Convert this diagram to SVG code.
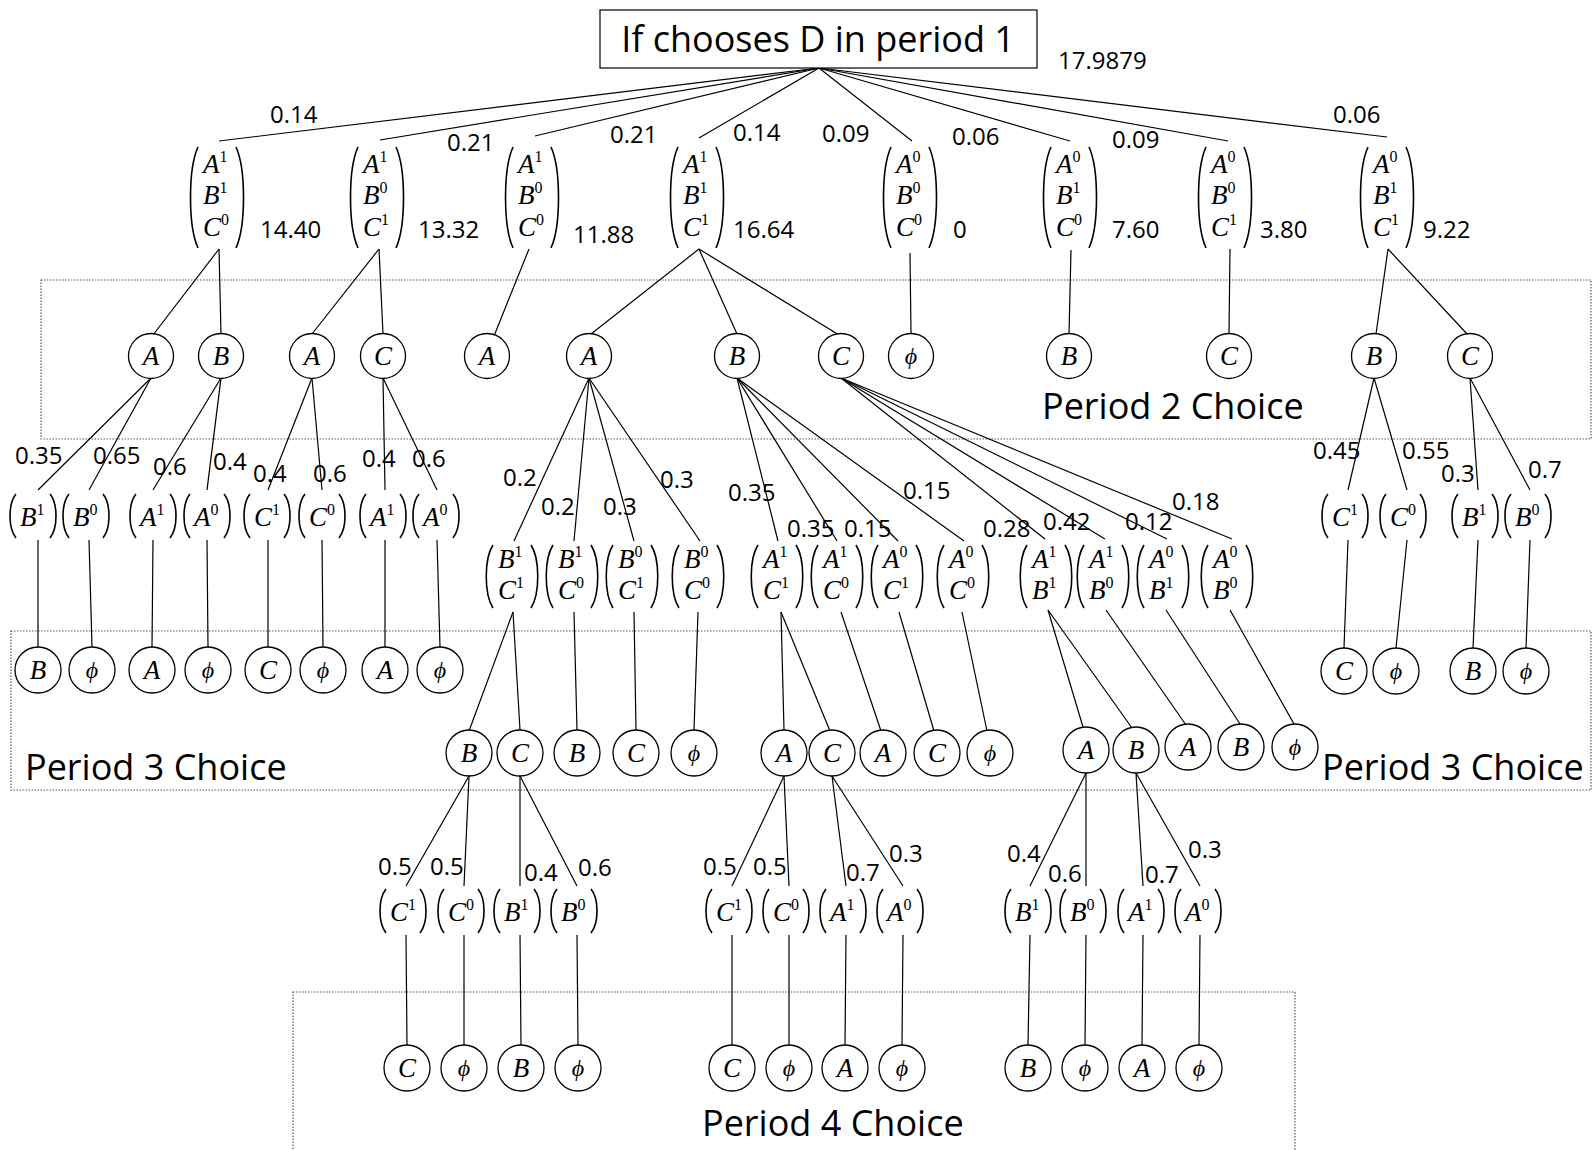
<svg xmlns="http://www.w3.org/2000/svg" width="1595" height="1150" viewBox="0 0 1595 1150">
<style>
.ln{stroke:#000;stroke-width:1.2;fill:none}
.bx{fill:none;stroke:#555;stroke-width:1.2;stroke-dasharray:1.5 1.5}
.nd{fill:#fff;stroke:#000;stroke-width:1.3}
.num{font-family:"Open Sans","Liberation Sans",sans-serif;font-size:24px;fill:#000}
.big{font-family:"Open Sans","Liberation Sans",sans-serif;font-size:36px;fill:#000}
.m{font-family:"Liberation Serif","DejaVu Serif",serif;font-style:italic;font-size:27px;fill:#000}
.c{text-anchor:middle}
.s{font-size:16px;font-style:normal}
.phi{font-size:24px}
</style>
<defs>
<path id="p3" fill="none" stroke="#000" stroke-width="1.6" d="M-19,0 C-29,22 -29,79 -19,101 M19,0 C29,22 29,79 19,101"/>
<path id="p2" fill="none" stroke="#000" stroke-width="1.6" d="M-19,0 C-28,14 -28,49 -19,63 M19,0 C28,14 28,49 19,63"/>
<path id="p1" fill="none" stroke="#000" stroke-width="1.6" d="M-17,0 C-25,10 -25,34 -17,44 M17,0 C25,10 25,34 17,44"/>
</defs>
<rect width="1595" height="1150" fill="#fff"/>

<g id="boxes">
<rect class="bx" x="41" y="280" width="1550" height="159"/>
<rect class="bx" x="11" y="631" width="1580" height="159"/>
<rect class="bx" x="293" y="992" width="1002" height="200"/>
<text class="big" x="1042" y="419">Period 2 Choice</text>
<text class="big" x="25" y="780">Period 3 Choice</text>
<text class="big" x="1322" y="780">Period 3 Choice</text>
<text class="big" x="702" y="1136">Period 4 Choice</text>
</g>

<g id="connectors" class="ln">
<line x1="819" y1="68" x2="219" y2="141"/><line x1="819" y1="68" x2="380" y2="140"/><line x1="819" y1="68" x2="535" y2="136"/><line x1="819" y1="68" x2="699" y2="138"/><line x1="819" y1="68" x2="912" y2="141"/><line x1="819" y1="68" x2="1070" y2="141"/><line x1="819" y1="68" x2="1228" y2="141"/><line x1="819" y1="68" x2="1387" y2="137"/>
<line x1="219" y1="249" x2="153" y2="335"/><line x1="219" y1="249" x2="221" y2="334"/>
<line x1="379" y1="249" x2="312" y2="334"/><line x1="379" y1="249" x2="383" y2="334"/>
<line x1="529" y1="249" x2="494" y2="336"/>
<line x1="699" y1="249" x2="591" y2="334"/><line x1="699" y1="249" x2="737" y2="334"/><line x1="699" y1="249" x2="839" y2="335"/>
<line x1="910" y1="253" x2="911" y2="334"/>
<line x1="1071" y1="250" x2="1069" y2="334"/>
<line x1="1230" y1="249" x2="1229" y2="334"/>
<line x1="1388" y1="249" x2="1376" y2="334"/><line x1="1388" y1="249" x2="1468" y2="335"/>
<line x1="151" y1="378" x2="38" y2="490"/><line x1="151" y1="378" x2="89" y2="490"/>
<line x1="221" y1="378" x2="153" y2="490"/><line x1="221" y1="378" x2="207" y2="490"/>
<line x1="312" y1="378" x2="268" y2="490"/><line x1="312" y1="378" x2="322" y2="490"/>
<line x1="383" y1="378" x2="385" y2="490"/><line x1="383" y1="378" x2="437" y2="490"/>
<line x1="589" y1="378" x2="514" y2="541"/><line x1="589" y1="378" x2="574" y2="541"/><line x1="589" y1="378" x2="634" y2="541"/><line x1="589" y1="378" x2="700" y2="541"/>
<line x1="737" y1="378" x2="778" y2="541"/><line x1="737" y1="378" x2="837" y2="541"/><line x1="737" y1="378" x2="898" y2="541"/><line x1="737" y1="378" x2="964" y2="541"/>
<line x1="841" y1="378" x2="1045" y2="539"/><line x1="841" y1="378" x2="1105" y2="539"/><line x1="841" y1="378" x2="1167" y2="539"/><line x1="841" y1="378" x2="1232" y2="539"/>
<line x1="1374" y1="378" x2="1348" y2="490"/><line x1="1374" y1="378" x2="1407" y2="490"/>
<line x1="1470" y1="378" x2="1478" y2="490"/><line x1="1470" y1="378" x2="1530" y2="490"/>
<line x1="38" y1="540" x2="38" y2="647"/><line x1="89" y1="540" x2="92" y2="647"/><line x1="153" y1="540" x2="152" y2="647"/><line x1="207" y1="540" x2="208" y2="647"/><line x1="268" y1="540" x2="268" y2="647"/><line x1="322" y1="540" x2="323" y2="647"/><line x1="385" y1="540" x2="385" y2="647"/><line x1="437" y1="540" x2="440" y2="647"/>
<line x1="1348" y1="540" x2="1344" y2="648"/><line x1="1407" y1="540" x2="1396" y2="648"/><line x1="1478" y1="540" x2="1473" y2="648"/><line x1="1530" y1="540" x2="1526" y2="648"/>
<line x1="513" y1="612" x2="469" y2="731"/><line x1="513" y1="612" x2="520" y2="730"/>
<line x1="574" y1="612" x2="577" y2="730"/><line x1="634" y1="612" x2="636" y2="730"/><line x1="698" y1="612" x2="694" y2="730"/>
<line x1="781" y1="612" x2="784" y2="730"/><line x1="781" y1="612" x2="830" y2="731"/>
<line x1="841" y1="612" x2="881" y2="731"/><line x1="899" y1="612" x2="934" y2="731"/><line x1="962" y1="612" x2="987" y2="731"/>
<line x1="1048" y1="610" x2="1083" y2="727"/><line x1="1048" y1="610" x2="1132" y2="728"/>
<line x1="1106" y1="610" x2="1186" y2="725"/><line x1="1166" y1="610" x2="1240" y2="724"/><line x1="1230" y1="610" x2="1294" y2="724"/>
<line x1="469" y1="776" x2="406" y2="886"/><line x1="469" y1="776" x2="464" y2="886"/>
<line x1="520" y1="776" x2="520" y2="886"/><line x1="520" y1="776" x2="577" y2="886"/>
<line x1="784" y1="776" x2="732" y2="886"/><line x1="784" y1="776" x2="789" y2="886"/>
<line x1="832" y1="776" x2="846" y2="886"/><line x1="832" y1="776" x2="903" y2="886"/>
<line x1="1086" y1="773" x2="1030" y2="886"/><line x1="1086" y1="773" x2="1086" y2="886"/>
<line x1="1136" y1="773" x2="1143" y2="886"/><line x1="1136" y1="773" x2="1200" y2="886"/>
<line x1="406" y1="935" x2="407" y2="1045"/><line x1="464" y1="935" x2="464" y2="1045"/><line x1="520" y1="935" x2="521" y2="1045"/><line x1="577" y1="935" x2="578" y2="1045"/>
<line x1="732" y1="935" x2="732" y2="1045"/><line x1="789" y1="935" x2="789" y2="1045"/><line x1="846" y1="935" x2="845" y2="1045"/><line x1="903" y1="935" x2="902" y2="1045"/>
<line x1="1030" y1="935" x2="1028" y2="1045"/><line x1="1086" y1="935" x2="1085" y2="1045"/><line x1="1143" y1="935" x2="1142" y2="1045"/><line x1="1200" y1="935" x2="1199" y2="1045"/>
</g>

<g id="edge-labels" class="num">
<text x="270" y="123">0.14</text><text x="447" y="151">0.21</text><text x="610" y="143">0.21</text><text x="733" y="141">0.14</text><text x="822" y="142">0.09</text><text x="952" y="145">0.06</text><text x="1112" y="148">0.09</text><text x="1333" y="123">0.06</text>
<text x="15" y="464">0.35</text><text x="93" y="464">0.65</text><text x="153" y="475">0.6</text><text x="213" y="470">0.4</text><text x="253" y="482">0.4</text><text x="313" y="482">0.6</text><text x="362" y="467">0.4</text><text x="412" y="467">0.6</text>
<text x="503" y="486">0.2</text><text x="541" y="515">0.2</text><text x="603" y="515">0.3</text><text x="660" y="488">0.3</text>
<text x="728" y="501">0.35</text><text x="787" y="537">0.35</text><text x="844" y="537">0.15</text><text x="903" y="499">0.15</text>
<text x="983" y="537">0.28</text><text x="1043" y="530">0.42</text><text x="1125" y="530">0.12</text><text x="1172" y="510">0.18</text>
<text x="1313" y="459">0.45</text><text x="1402" y="459">0.55</text><text x="1441" y="482">0.3</text><text x="1528" y="478">0.7</text>
<text x="378" y="875">0.5</text><text x="430" y="875">0.5</text><text x="524" y="881">0.4</text><text x="578" y="876">0.6</text>
<text x="703" y="875">0.5</text><text x="753" y="875">0.5</text><text x="846" y="881">0.7</text><text x="889" y="862">0.3</text>
<text x="1007" y="862">0.4</text><text x="1048" y="882">0.6</text><text x="1145" y="883">0.7</text><text x="1188" y="858">0.3</text>
</g>

<g id="root">
<rect x="600" y="10" width="437" height="58" fill="#fff" stroke="#000" stroke-width="1.2"/>
<text class="big c" x="818" y="52">If chooses D in period 1</text>
<text class="num" x="1058" y="69">17.9879</text>
</g>

<g id="m1"><use href="#p3" x="217" y="147"/><text class="m" x="203" y="173">A<tspan class="s" dy="-11">1</tspan></text><text class="m" x="203" y="204">B<tspan class="s" dy="-11">1</tspan></text><text class="m" x="203" y="236">C<tspan class="s" dy="-11">0</tspan></text><text class="num" x="260" y="238">14.40</text></g>
<g id="m2"><use href="#p3" x="377" y="147"/><text class="m" x="363" y="173">A<tspan class="s" dy="-11">1</tspan></text><text class="m" x="363" y="204">B<tspan class="s" dy="-11">0</tspan></text><text class="m" x="363" y="236">C<tspan class="s" dy="-11">1</tspan></text><text class="num" x="418" y="238">13.32</text></g>
<g id="m3"><use href="#p3" x="532" y="147"/><text class="m" x="518" y="173">A<tspan class="s" dy="-11">1</tspan></text><text class="m" x="518" y="204">B<tspan class="s" dy="-11">0</tspan></text><text class="m" x="518" y="236">C<tspan class="s" dy="-11">0</tspan></text><text class="num" x="573" y="243">11.88</text></g>
<g id="m4"><use href="#p3" x="697" y="147"/><text class="m" x="683" y="173">A<tspan class="s" dy="-11">1</tspan></text><text class="m" x="683" y="204">B<tspan class="s" dy="-11">1</tspan></text><text class="m" x="683" y="236">C<tspan class="s" dy="-11">1</tspan></text><text class="num" x="733" y="238">16.64</text></g>
<g id="m5"><use href="#p3" x="910" y="147"/><text class="m" x="896" y="173">A<tspan class="s" dy="-11">0</tspan></text><text class="m" x="896" y="204">B<tspan class="s" dy="-11">0</tspan></text><text class="m" x="896" y="236">C<tspan class="s" dy="-11">0</tspan></text><text class="num" x="953" y="238">0</text></g>
<g id="m6"><use href="#p3" x="1070" y="147"/><text class="m" x="1056" y="173">A<tspan class="s" dy="-11">0</tspan></text><text class="m" x="1056" y="204">B<tspan class="s" dy="-11">1</tspan></text><text class="m" x="1056" y="236">C<tspan class="s" dy="-11">0</tspan></text><text class="num" x="1112" y="238">7.60</text></g>
<g id="m7"><use href="#p3" x="1225" y="147"/><text class="m" x="1211" y="173">A<tspan class="s" dy="-11">0</tspan></text><text class="m" x="1211" y="204">B<tspan class="s" dy="-11">0</tspan></text><text class="m" x="1211" y="236">C<tspan class="s" dy="-11">1</tspan></text><text class="num" x="1260" y="238">3.80</text></g>
<g id="m8"><use href="#p3" x="1387" y="147"/><text class="m" x="1373" y="173">A<tspan class="s" dy="-11">0</tspan></text><text class="m" x="1373" y="204">B<tspan class="s" dy="-11">1</tspan></text><text class="m" x="1373" y="236">C<tspan class="s" dy="-11">1</tspan></text><text class="num" x="1423" y="238">9.22</text></g>

<g id="p2-1"><circle class="nd" cx="151" cy="356" r="22.5"/><text class="m c" x="151" y="365">A</text></g>
<g id="p2-2"><circle class="nd" cx="221" cy="356" r="22.5"/><text class="m c" x="221" y="365">B</text></g>
<g id="p2-3"><circle class="nd" cx="312" cy="356" r="22.5"/><text class="m c" x="312" y="365">A</text></g>
<g id="p2-4"><circle class="nd" cx="383" cy="356" r="22.5"/><text class="m c" x="383" y="365">C</text></g>
<g id="p2-5"><circle class="nd" cx="487" cy="356" r="22.5"/><text class="m c" x="487" y="365">A</text></g>
<g id="p2-6"><circle class="nd" cx="589" cy="356" r="22.5"/><text class="m c" x="589" y="365">A</text></g>
<g id="p2-7"><circle class="nd" cx="737" cy="356" r="22.5"/><text class="m c" x="737" y="365">B</text></g>
<g id="p2-8"><circle class="nd" cx="841" cy="356" r="22.5"/><text class="m c" x="841" y="365">C</text></g>
<g id="p2-9"><circle class="nd" cx="911" cy="356" r="22.5"/><text class="m c phi" x="911" y="364">ϕ</text></g>
<g id="p2-10"><circle class="nd" cx="1069" cy="356" r="22.5"/><text class="m c" x="1069" y="365">B</text></g>
<g id="p2-11"><circle class="nd" cx="1229" cy="356" r="22.5"/><text class="m c" x="1229" y="365">C</text></g>
<g id="p2-12"><circle class="nd" cx="1374" cy="356" r="22.5"/><text class="m c" x="1374" y="365">B</text></g>
<g id="p2-13"><circle class="nd" cx="1470" cy="356" r="22.5"/><text class="m c" x="1470" y="365">C</text></g>

<g id="s3-1"><use href="#p1" x="33" y="494"/><text class="m" x="20" y="526">B<tspan class="s" dy="-11">1</tspan></text></g>
<g id="s3-2"><use href="#p1" x="86" y="494"/><text class="m" x="73" y="526">B<tspan class="s" dy="-11">0</tspan></text></g>
<g id="s3-3"><use href="#p1" x="153" y="494"/><text class="m" x="140" y="526">A<tspan class="s" dy="-11">1</tspan></text></g>
<g id="s3-4"><use href="#p1" x="207" y="494"/><text class="m" x="194" y="526">A<tspan class="s" dy="-11">0</tspan></text></g>
<g id="s3-5"><use href="#p1" x="267" y="494"/><text class="m" x="254" y="526">C<tspan class="s" dy="-11">1</tspan></text></g>
<g id="s3-6"><use href="#p1" x="322" y="494"/><text class="m" x="309" y="526">C<tspan class="s" dy="-11">0</tspan></text></g>
<g id="s3-7"><use href="#p1" x="383" y="494"/><text class="m" x="370" y="526">A<tspan class="s" dy="-11">1</tspan></text></g>
<g id="s3-8"><use href="#p1" x="436" y="494"/><text class="m" x="423" y="526">A<tspan class="s" dy="-11">0</tspan></text></g>
<g id="s3-9"><use href="#p1" x="1345" y="494"/><text class="m" x="1332" y="526">C<tspan class="s" dy="-11">1</tspan></text></g>
<g id="s3-10"><use href="#p1" x="1403" y="494"/><text class="m" x="1390" y="526">C<tspan class="s" dy="-11">0</tspan></text></g>
<g id="s3-11"><use href="#p1" x="1475" y="494"/><text class="m" x="1462" y="526">B<tspan class="s" dy="-11">1</tspan></text></g>
<g id="s3-12"><use href="#p1" x="1528" y="494"/><text class="m" x="1515" y="526">B<tspan class="s" dy="-11">0</tspan></text></g>

<g id="d-1"><use href="#p2" x="512" y="545"/><text class="m" x="498" y="568">B<tspan class="s" dy="-11">1</tspan></text><text class="m" x="498" y="599">C<tspan class="s" dy="-11">1</tspan></text></g>
<g id="d-2"><use href="#p2" x="572" y="545"/><text class="m" x="558" y="568">B<tspan class="s" dy="-11">1</tspan></text><text class="m" x="558" y="599">C<tspan class="s" dy="-11">0</tspan></text></g>
<g id="d-3"><use href="#p2" x="632" y="545"/><text class="m" x="618" y="568">B<tspan class="s" dy="-11">0</tspan></text><text class="m" x="618" y="599">C<tspan class="s" dy="-11">1</tspan></text></g>
<g id="d-4"><use href="#p2" x="698" y="545"/><text class="m" x="684" y="568">B<tspan class="s" dy="-11">0</tspan></text><text class="m" x="684" y="599">C<tspan class="s" dy="-11">0</tspan></text></g>
<g id="d-5"><use href="#p2" x="777" y="545"/><text class="m" x="763" y="568">A<tspan class="s" dy="-11">1</tspan></text><text class="m" x="763" y="599">C<tspan class="s" dy="-11">1</tspan></text></g>
<g id="d-6"><use href="#p2" x="837" y="545"/><text class="m" x="823" y="568">A<tspan class="s" dy="-11">1</tspan></text><text class="m" x="823" y="599">C<tspan class="s" dy="-11">0</tspan></text></g>
<g id="d-7"><use href="#p2" x="897" y="545"/><text class="m" x="883" y="568">A<tspan class="s" dy="-11">0</tspan></text><text class="m" x="883" y="599">C<tspan class="s" dy="-11">1</tspan></text></g>
<g id="d-8"><use href="#p2" x="963" y="545"/><text class="m" x="949" y="568">A<tspan class="s" dy="-11">0</tspan></text><text class="m" x="949" y="599">C<tspan class="s" dy="-11">0</tspan></text></g>
<g id="d-9"><use href="#p2" x="1046" y="545"/><text class="m" x="1032" y="568">A<tspan class="s" dy="-11">1</tspan></text><text class="m" x="1032" y="599">B<tspan class="s" dy="-11">1</tspan></text></g>
<g id="d-10"><use href="#p2" x="1103" y="545"/><text class="m" x="1089" y="568">A<tspan class="s" dy="-11">1</tspan></text><text class="m" x="1089" y="599">B<tspan class="s" dy="-11">0</tspan></text></g>
<g id="d-11"><use href="#p2" x="1163" y="545"/><text class="m" x="1149" y="568">A<tspan class="s" dy="-11">0</tspan></text><text class="m" x="1149" y="599">B<tspan class="s" dy="-11">1</tspan></text></g>
<g id="d-12"><use href="#p2" x="1227" y="545"/><text class="m" x="1213" y="568">A<tspan class="s" dy="-11">0</tspan></text><text class="m" x="1213" y="599">B<tspan class="s" dy="-11">0</tspan></text></g>

<g id="c4-1"><circle class="nd" cx="38" cy="670" r="23"/><text class="m c" x="38" y="679">B</text></g>
<g id="c4-2"><circle class="nd" cx="92" cy="670" r="23"/><text class="m c phi" x="92" y="678">ϕ</text></g>
<g id="c4-3"><circle class="nd" cx="152" cy="670" r="23"/><text class="m c" x="152" y="679">A</text></g>
<g id="c4-4"><circle class="nd" cx="208" cy="670" r="23"/><text class="m c phi" x="208" y="678">ϕ</text></g>
<g id="c4-5"><circle class="nd" cx="268" cy="670" r="23"/><text class="m c" x="268" y="679">C</text></g>
<g id="c4-6"><circle class="nd" cx="323" cy="670" r="23"/><text class="m c phi" x="323" y="678">ϕ</text></g>
<g id="c4-7"><circle class="nd" cx="385" cy="670" r="23"/><text class="m c" x="385" y="679">A</text></g>
<g id="c4-8"><circle class="nd" cx="440" cy="670" r="23"/><text class="m c phi" x="440" y="678">ϕ</text></g>
<g id="c4-9"><circle class="nd" cx="1344" cy="671" r="23"/><text class="m c" x="1344" y="680">C</text></g>
<g id="c4-10"><circle class="nd" cx="1396" cy="671" r="23"/><text class="m c phi" x="1396" y="679">ϕ</text></g>
<g id="c4-11"><circle class="nd" cx="1473" cy="671" r="23"/><text class="m c" x="1473" y="680">B</text></g>
<g id="c4-12"><circle class="nd" cx="1526" cy="671" r="23"/><text class="m c phi" x="1526" y="679">ϕ</text></g>

<g id="c5-1"><circle class="nd" cx="469" cy="753" r="23"/><text class="m c" x="469" y="762">B</text></g>
<g id="c5-2"><circle class="nd" cx="520" cy="753" r="23"/><text class="m c" x="520" y="762">C</text></g>
<g id="c5-3"><circle class="nd" cx="577" cy="753" r="23"/><text class="m c" x="577" y="762">B</text></g>
<g id="c5-4"><circle class="nd" cx="636" cy="753" r="23"/><text class="m c" x="636" y="762">C</text></g>
<g id="c5-5"><circle class="nd" cx="694" cy="753" r="23"/><text class="m c phi" x="694" y="761">ϕ</text></g>
<g id="c5-6"><circle class="nd" cx="784" cy="753" r="23"/><text class="m c" x="784" y="762">A</text></g>
<g id="c5-7"><circle class="nd" cx="832" cy="753" r="23"/><text class="m c" x="832" y="762">C</text></g>
<g id="c5-8"><circle class="nd" cx="883" cy="753" r="23"/><text class="m c" x="883" y="762">A</text></g>
<g id="c5-9"><circle class="nd" cx="937" cy="753" r="23"/><text class="m c" x="937" y="762">C</text></g>
<g id="c5-10"><circle class="nd" cx="990" cy="753" r="23"/><text class="m c phi" x="990" y="761">ϕ</text></g>
<g id="c5-11"><circle class="nd" cx="1086" cy="750" r="23"/><text class="m c" x="1086" y="759">A</text></g>
<g id="c5-12"><circle class="nd" cx="1136" cy="750" r="23"/><text class="m c" x="1136" y="759">B</text></g>
<g id="c5-13"><circle class="nd" cx="1188" cy="747" r="23"/><text class="m c" x="1188" y="756">A</text></g>
<g id="c5-14"><circle class="nd" cx="1241" cy="747" r="23"/><text class="m c" x="1241" y="756">B</text></g>
<g id="c5-15"><circle class="nd" cx="1295" cy="747" r="23"/><text class="m c phi" x="1295" y="755">ϕ</text></g>

<g id="s6-1"><use href="#p1" x="403" y="889"/><text class="m" x="390" y="921">C<tspan class="s" dy="-11">1</tspan></text></g>
<g id="s6-2"><use href="#p1" x="461" y="889"/><text class="m" x="448" y="921">C<tspan class="s" dy="-11">0</tspan></text></g>
<g id="s6-3"><use href="#p1" x="517" y="889"/><text class="m" x="504" y="921">B<tspan class="s" dy="-11">1</tspan></text></g>
<g id="s6-4"><use href="#p1" x="574" y="889"/><text class="m" x="561" y="921">B<tspan class="s" dy="-11">0</tspan></text></g>
<g id="s6-5"><use href="#p1" x="729" y="889"/><text class="m" x="716" y="921">C<tspan class="s" dy="-11">1</tspan></text></g>
<g id="s6-6"><use href="#p1" x="786" y="889"/><text class="m" x="773" y="921">C<tspan class="s" dy="-11">0</tspan></text></g>
<g id="s6-7"><use href="#p1" x="843" y="889"/><text class="m" x="830" y="921">A<tspan class="s" dy="-11">1</tspan></text></g>
<g id="s6-8"><use href="#p1" x="900" y="889"/><text class="m" x="887" y="921">A<tspan class="s" dy="-11">0</tspan></text></g>
<g id="s6-9"><use href="#p1" x="1028" y="889"/><text class="m" x="1015" y="921">B<tspan class="s" dy="-11">1</tspan></text></g>
<g id="s6-10"><use href="#p1" x="1083" y="889"/><text class="m" x="1070" y="921">B<tspan class="s" dy="-11">0</tspan></text></g>
<g id="s6-11"><use href="#p1" x="1141" y="889"/><text class="m" x="1128" y="921">A<tspan class="s" dy="-11">1</tspan></text></g>
<g id="s6-12"><use href="#p1" x="1198" y="889"/><text class="m" x="1185" y="921">A<tspan class="s" dy="-11">0</tspan></text></g>

<g id="c7-1"><circle class="nd" cx="407" cy="1068" r="23"/><text class="m c" x="407" y="1077">C</text></g>
<g id="c7-2"><circle class="nd" cx="464" cy="1068" r="23"/><text class="m c phi" x="464" y="1076">ϕ</text></g>
<g id="c7-3"><circle class="nd" cx="521" cy="1068" r="23"/><text class="m c" x="521" y="1077">B</text></g>
<g id="c7-4"><circle class="nd" cx="578" cy="1068" r="23"/><text class="m c phi" x="578" y="1076">ϕ</text></g>
<g id="c7-5"><circle class="nd" cx="732" cy="1068" r="23"/><text class="m c" x="732" y="1077">C</text></g>
<g id="c7-6"><circle class="nd" cx="789" cy="1068" r="23"/><text class="m c phi" x="789" y="1076">ϕ</text></g>
<g id="c7-7"><circle class="nd" cx="845" cy="1068" r="23"/><text class="m c" x="845" y="1077">A</text></g>
<g id="c7-8"><circle class="nd" cx="902" cy="1068" r="23"/><text class="m c phi" x="902" y="1076">ϕ</text></g>
<g id="c7-9"><circle class="nd" cx="1028" cy="1068" r="23"/><text class="m c" x="1028" y="1077">B</text></g>
<g id="c7-10"><circle class="nd" cx="1085" cy="1068" r="23"/><text class="m c phi" x="1085" y="1076">ϕ</text></g>
<g id="c7-11"><circle class="nd" cx="1142" cy="1068" r="23"/><text class="m c" x="1142" y="1077">A</text></g>
<g id="c7-12"><circle class="nd" cx="1199" cy="1068" r="23"/><text class="m c phi" x="1199" y="1076">ϕ</text></g>
</svg>
